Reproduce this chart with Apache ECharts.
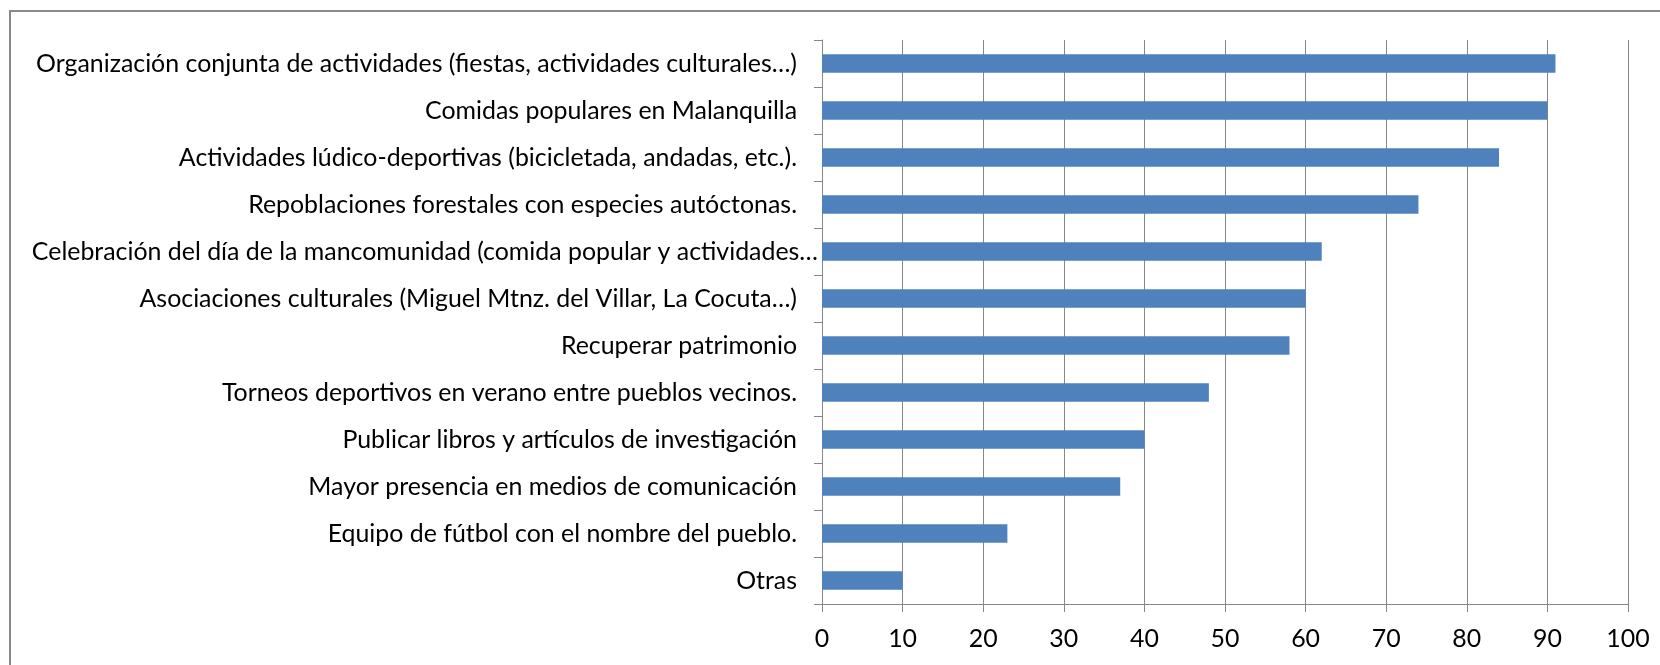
<!DOCTYPE html>
<html>
<head>
<meta charset="utf-8">
<script src="https://cdn.jsdelivr.net/npm/echarts@6/dist/echarts.min.js"></script>
<style>
html,body{margin:0;padding:0;background:#fff;}
#chart{width:1660px;height:665px;}
</style>
</head>
<body>
<div id="chart"></div>
<script>
const categories = [
  "Organización conjunta de actividades (fiestas, actividades culturales…)",
  "Comidas populares en Malanquilla",
  "Actividades lúdico-deportivas (bicicletada, andadas, etc.).",
  "Repoblaciones forestales con especies autóctonas.",
  "Celebración del día de la mancomunidad (comida popular y actividades…",
  "Asociaciones culturales (Miguel Mtnz. del Villar, La Cocuta…)",
  "Recuperar patrimonio",
  "Torneos deportivos en verano entre pueblos vecinos.",
  "Publicar libros y artículos de investigación",
  "Mayor presencia en medios de comunicación",
  "Equipo de fútbol con el nombre del pueblo.",
  "Otras"
];
const values = [91, 90, 84, 74, 62, 60, 58, 48, 40, 37, 23, 10];
const xTicks = [0, 10, 20, 30, 40, 50, 60, 70, 80, 90, 100];

const FONT = "Lato";
// fit font size so that the longest regular label is ~760px wide (as in the reference)
const cv = document.createElement('canvas').getContext('2d');
cv.font = "100px " + FONT;
const w100 = cv.measureText(categories[0]).width;
const fs = Math.round(100 * 760 / w100 * 10) / 10;

const chart = echarts.init(document.getElementById('chart'), null, {renderer: 'canvas'});
const gray = '#878787';
chart.setOption({
  animation: false,
  backgroundColor: '#ffffff',
  graphic: [{
    type: 'rect',
    shape: {x: 10, y: 11, width: 1700, height: 700},
    style: {fill: 'none', stroke: '#898989', lineWidth: 2},
    silent: true
  }],
  grid: {left: 822, right: 32, top: 40, bottom: 61, containLabel: false},
  xAxis: {
    type: 'value', min: xTicks[0], max: xTicks[xTicks.length - 1], interval: 10,
    axisLine: {show: true, lineStyle: {color: gray, width: 1}},
    axisTick: {show: true, length: 8, lineStyle: {color: gray}},
    splitLine: {show: true, lineStyle: {color: gray, width: 1}},
    axisLabel: {color: '#000', fontFamily: FONT, fontSize: fs, margin: 22}
  },
  yAxis: {
    type: 'category', data: categories, inverse: true,
    axisLine: {show: true, lineStyle: {color: gray, width: 1}},
    axisTick: {show: true, length: 8, lineStyle: {color: gray}},
    splitLine: {show: false},
    axisLabel: {
      color: '#000', fontFamily: FONT, fontSize: fs, margin: 25,
      formatter: function (v, i) {
        return i === 4 ? '{w|' + v + '}' : v;
      },
      rich: {w: {color: '#000', fontFamily: FONT, fontSize: fs, padding: [0, -21, 0, 0]}}
    }
  },
  series: [{
    type: 'bar', data: values, barWidth: '39%',
    itemStyle: {color: '#4F81BD'}
  }]
});
</script>
</body>
</html>
